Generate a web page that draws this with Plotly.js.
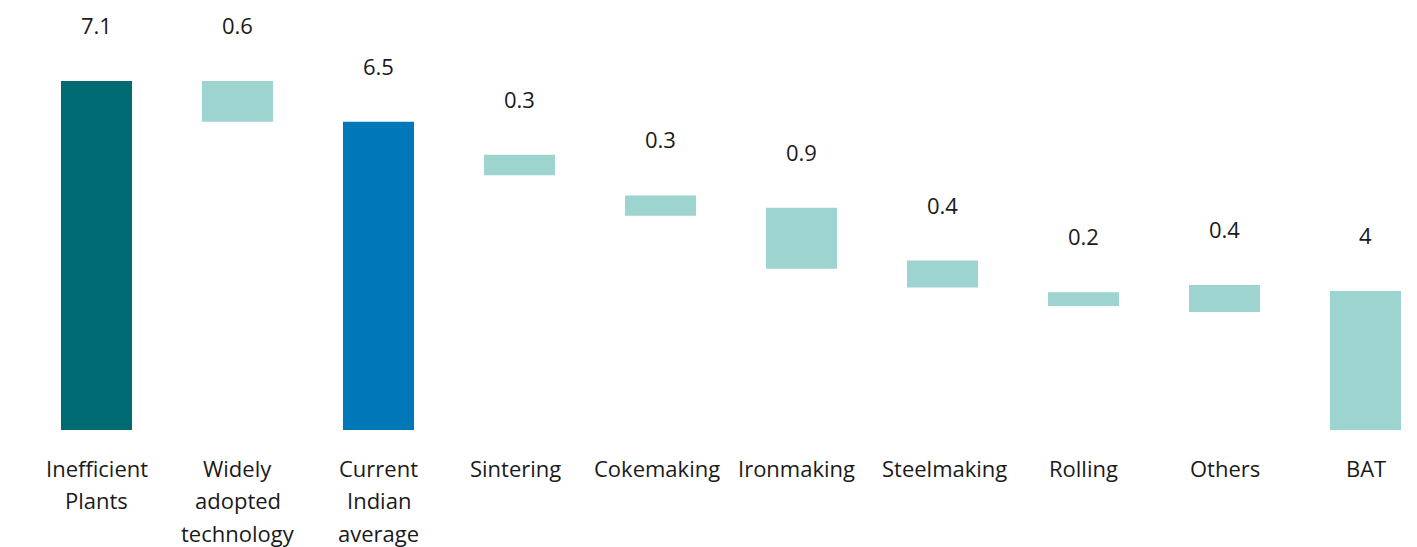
<!DOCTYPE html>
<html>
<head>
<meta charset="utf-8">
<script src="https://cdn.plot.ly/plotly-3.0.1.min.js"></script>
<style>
  html, body { margin: 0; padding: 0; background: #ffffff; }
  #chart { width: 1417px; height: 547px; }
</style>
</head>
<body>
<div id="chart"></div>
<script>
// ---- data ----
const categories = ['Inefficient Plants', 'Widely adopted technology', 'Current Indian average',
  'Sintering', 'Cokemaking', 'Ironmaking', 'Steelmaking', 'Rolling', 'Others', 'BAT'];
const categoryLines = [
  ['Inefficient', 'Plants'],
  ['Widely', 'adopted', 'technology'],
  ['Current', 'Indian', 'average'],
  ['Sintering'], ['Cokemaking'], ['Ironmaking'], ['Steelmaking'], ['Rolling'], ['Others'], ['BAT']
];
const values = [7.1, 0.6, 6.5, 0.3, 0.3, 0.9, 0.4, 0.2, 0.4, 4];
// bottom of each floating bar as drawn in the reference (totals start at 0)
const bases = [0, 6.5, 0, 5.71, 5.11, 4.33, 4.05, 3.78, 3.69, 0];
const valueLabels = ['7.1', '0.6', '6.5', '0.3', '0.3', '0.9', '0.4', '0.2', '0.4', '4'];
const barKind = ['start', 'step', 'current', 'step', 'step', 'step', 'step', 'step', 'step', 'end'];

// ---- styles ----
const kindColor = { start: '#006a73', current: '#0077b6', step: '#9dd4cf', end: '#9dd4cf' };
const FONT = '"Open Sans", "Noto Sans", sans-serif';
const TEXT_COLOR = '#1a1a1a';
const FS = 22;
const labelNudge = [0, 0, 0, -4, -4, -5, 2, 0, 0, 0];

const trace = {
  type: 'bar',
  x: categories,
  y: values,
  base: bases,
  marker: { color: barKind.map(k => kindColor[k]), line: { width: 0 } },
  hoverinfo: 'skip',
  showlegend: false
};

const annotations = [];
categories.forEach((c, i) => {
  annotations.push({
    x: c, y: bases[i] + values[i], xref: 'x', yref: 'y',
    text: valueLabels[i], showarrow: false,
    yanchor: 'middle', xanchor: 'center', yshift: 56,
    font: { family: FONT, size: FS, color: TEXT_COLOR }
  });
  categoryLines[i].forEach((line, j) => {
    annotations.push({
      x: c, y: 0, xref: 'x', yref: 'paper',
      text: line, showarrow: false, xshift: labelNudge[i],
      yanchor: 'middle', xanchor: 'center', yshift: -38 - 32.3 * j,
      font: { family: FONT, size: FS, color: TEXT_COLOR }
    });
  });
});

const layout = {
  width: 1417, height: 547,
  margin: { l: 0, r: 0, t: 0, b: 117 },
  paper_bgcolor: '#ffffff', plot_bgcolor: '#ffffff',
  bargap: 0.496,
  xaxis: {
    type: 'category', range: [-0.6844, 9.3652],
    showticklabels: false, showgrid: false, zeroline: false, showline: false, ticks: ''
  },
  yaxis: {
    range: [1.948, 8.296],
    showticklabels: false, showgrid: false, zeroline: false, showline: false, ticks: ''
  },
  annotations: annotations,
  font: { family: FONT, size: FS, color: TEXT_COLOR }
};

Plotly.newPlot('chart', [trace], layout, { displayModeBar: false, staticPlot: true });
</script>
</body>
</html>
